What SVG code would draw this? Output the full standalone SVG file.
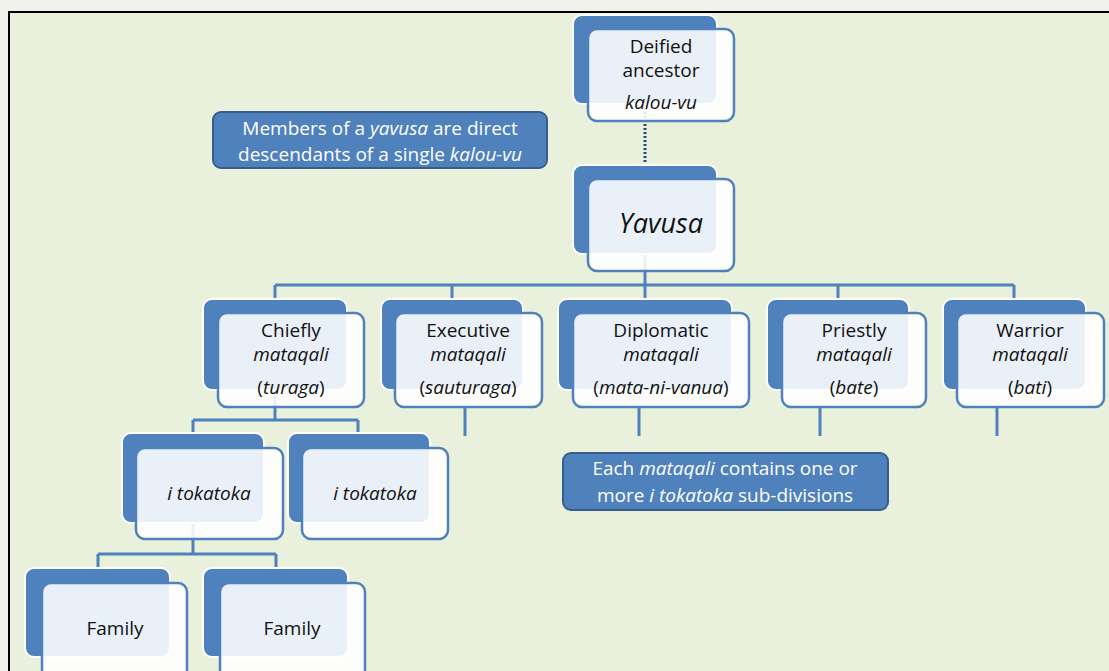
<svg xmlns="http://www.w3.org/2000/svg" width="1109" height="671" viewBox="0 0 1109 671">
<style>
.back{fill:#4f81bd;stroke:#ffffff;stroke-width:2}
.front{fill:#ffffff;fill-opacity:0.88;stroke:#4f81bd;stroke-width:2.5}
.t{font-family:"Open Sans","Liberation Sans",sans-serif;font-size:19px;fill:#111111;text-anchor:middle}
.i{font-style:italic}
.big{font-size:27px}
.c{font-family:"Open Sans","Liberation Sans",sans-serif;font-size:19px;fill:#ffffff;text-anchor:middle}
.callout{fill:#4f81bd;stroke:#385d8a;stroke-width:2}
.ln{fill:none;stroke:#4f81bd;stroke-width:3}
</style>
<rect x="0" y="0" width="1109" height="671" fill="#f1f2ec"/>
<rect x="9" y="12" width="1110" height="670" fill="#e9f0dc" stroke="#000000" stroke-width="2"/>
<g id="connectors">
<path d="M645 104 V165" fill="none" stroke="#1f497d" stroke-width="3" stroke-dasharray="2,2"/>
<path class="ln" d="M645 254 V285 M275 285 H1014 M275 285 V299 M452 285 V299 M645 285 V299 M838 285 V299 M1014 285 V299"/>
<path class="ln" d="M275 390 V420 M193 420 H358 M193 420 V433 M358 420 V433"/>
<path class="ln" d="M465 407 V436 M639 407 V436 M820 407 V436 M997 407 V436"/>
<path class="ln" d="M193 523 V554 M98 554 H276 M98 554 V568 M276 554 V568"/>
</g>
<g id="callout-yavusa">
<rect class="callout" x="213" y="112" width="334" height="56" rx="8"/>
<text class="c" x="380" y="135">Members of a <tspan class="i">yavusa</tspan> are direct</text>
<text class="c" x="380" y="161">descendants of a single <tspan class="i">kalou-vu</tspan></text>
</g>
<g id="callout-mataqali">
<rect class="callout" x="563" y="453" width="325" height="57" rx="8"/>
<text class="c" x="725" y="475">Each <tspan class="i">mataqali</tspan> contains one or</text>
<text class="c" x="725" y="502">more <tspan class="i">i tokatoka</tspan> sub-divisions</text>
</g>
<g id="node-ancestor">
<rect class="back" x="573" y="15" width="144" height="89" rx="9"/>
<rect class="front" x="588" y="29" width="146" height="92" rx="9"/>
<text class="t" x="661" y="53">Deified</text>
<text class="t" x="661" y="77">ancestor</text>
<text class="t i" x="661" y="109">kalou-vu</text>
</g>
<g id="node-yavusa">
<rect class="back" x="573" y="165" width="144" height="89" rx="9"/>
<rect class="front" x="588" y="179" width="146" height="92" rx="9"/>
<text class="t i big" x="661" y="233">Yavusa</text>
</g>
<g id="node-chiefly">
<rect class="back" x="203" y="299" width="144" height="91" rx="9"/>
<rect class="front" x="218" y="313" width="146" height="94" rx="9"/>
<text class="t" x="291" y="337">Chiefly</text>
<text class="t i" x="291" y="361">mataqali</text>
<text class="t" x="291" y="394">(<tspan class="i">turaga</tspan>)</text>
</g>
<g id="node-executive">
<rect class="back" x="381" y="299" width="142" height="91" rx="9"/>
<rect class="front" x="395" y="313" width="147" height="94" rx="9"/>
<text class="t" x="468" y="337">Executive</text>
<text class="t i" x="468" y="361">mataqali</text>
<text class="t" x="468" y="394">(<tspan class="i">sauturaga</tspan>)</text>
</g>
<g id="node-diplomatic">
<rect class="back" x="558" y="299" width="174" height="91" rx="9"/>
<rect class="front" x="573" y="313" width="176" height="94" rx="9"/>
<text class="t" x="661" y="337">Diplomatic</text>
<text class="t i" x="661" y="361">mataqali</text>
<text class="t" x="661" y="394">(<tspan class="i">mata-ni-vanua</tspan>)</text>
</g>
<g id="node-priestly">
<rect class="back" x="767" y="299" width="142" height="91" rx="9"/>
<rect class="front" x="782" y="313" width="144" height="94" rx="9"/>
<text class="t" x="854" y="337">Priestly</text>
<text class="t i" x="854" y="361">mataqali</text>
<text class="t" x="854" y="394">(<tspan class="i">bate</tspan>)</text>
</g>
<g id="node-warrior">
<rect class="back" x="943" y="299" width="143" height="91" rx="9"/>
<rect class="front" x="957" y="313" width="147" height="94" rx="9"/>
<text class="t" x="1030" y="337">Warrior</text>
<text class="t i" x="1030" y="361">mataqali</text>
<text class="t" x="1030" y="394">(<tspan class="i">bati</tspan>)</text>
</g>
<g id="node-itokatoka-1">
<rect class="back" x="122" y="433" width="142" height="90" rx="9"/>
<rect class="front" x="136" y="448" width="147" height="91" rx="9"/>
<text class="t i" x="209" y="500">i tokatoka</text>
</g>
<g id="node-itokatoka-2">
<rect class="back" x="288" y="433" width="142" height="90" rx="9"/>
<rect class="front" x="302" y="448" width="146" height="91" rx="9"/>
<text class="t i" x="375" y="500">i tokatoka</text>
</g>
<g id="node-family-1">
<rect class="back" x="25" y="568" width="145" height="89" rx="9"/>
<rect class="front" x="42" y="583" width="145" height="96" rx="9"/>
<text class="t" x="115" y="635">Family</text>
</g>
<g id="node-family-2">
<rect class="back" x="203" y="568" width="145" height="89" rx="9"/>
<rect class="front" x="220" y="583" width="145" height="96" rx="9"/>
<text class="t" x="292" y="635">Family</text>
</g>
</svg>
